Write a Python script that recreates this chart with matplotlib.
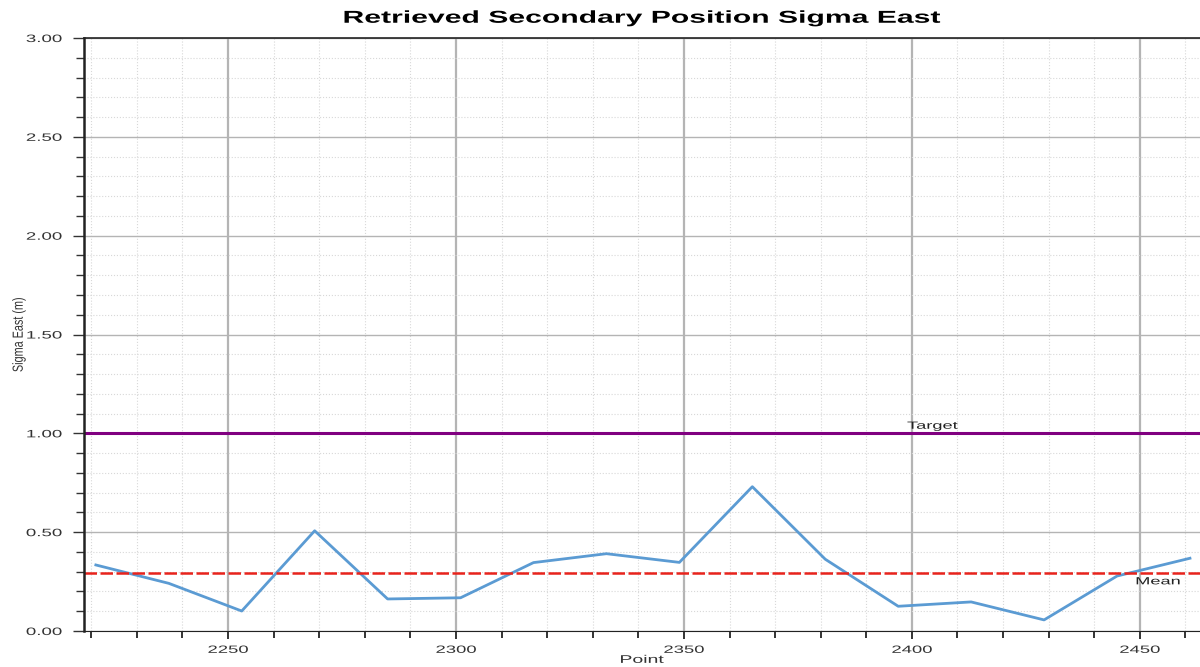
import numpy as np
import matplotlib.pyplot as plt
from matplotlib.patheffects import AbstractPathEffect
from matplotlib.ticker import MultipleLocator, FormatStrFormatter
from matplotlib.transforms import Affine2D

# data
points = [2221, 2237, 2253, 2269, 2285, 2301, 2317, 2333,
          2349, 2365, 2381, 2397, 2413, 2429, 2445, 2461]
sigma_east = [0.334, 0.241, 0.101, 0.507, 0.162, 0.168, 0.346, 0.391,
              0.347, 0.730, 0.363, 0.125, 0.147, 0.056, 0.278, 0.368]
target = 1.0
mean_val = np.mean(sigma_east)

# the reference text looks squashed vertically (wide glyphs),
# so glyphs get stretched sideways when drawn
SX = 1.75


class Stretch(AbstractPathEffect):
    def __init__(self, sx=1.0, sy=1.0, anchor='center'):
        super().__init__()
        self.sx = sx
        self.sy = sy
        self.anchor = anchor

    def draw_path(self, renderer, gc, tpath, affine, rgbFace=None):
        ext = tpath.get_extents()
        if self.anchor == 'right':
            cx = ext.x1
        elif self.anchor == 'left':
            cx = ext.x0
        else:
            cx = (ext.x0 + ext.x1) / 2
        cy = (ext.y0 + ext.y1) / 2
        t = Affine2D().translate(-cx, -cy).scale(self.sx, self.sy).translate(cx, cy)
        renderer.draw_path(gc, tpath, t + affine, rgbFace)


plt.rcParams['font.family'] = ['Liberation Sans', 'DejaVu Sans']

fig = plt.figure(figsize=(12, 6.67), dpi=100)
ax = fig.add_axes([0.07, 0.054, 0.93, 0.889])

ax.plot(points, sigma_east, color='#5b9bd3', linewidth=2)
ax.axhline(target, color='#800080', linewidth=2.2)
ax.axhline(mean_val, color='#e8231c', linewidth=1.8, linestyle=(0, (5, 1.4)))

ax.text(2404.5, target + 0.013, 'Target', ha='center', va='bottom', fontsize=7.5,
        color='#222222', path_effects=[Stretch(SX)])
ax.text(2454, mean_val - 0.015, 'Mean', ha='center', va='top', fontsize=7.5,
        color='#222222', path_effects=[Stretch(SX)])

ax.set_xlim(2218.4, 2463.2)
ax.set_ylim(0, 3)

ax.xaxis.set_major_locator(MultipleLocator(50))
ax.xaxis.set_minor_locator(MultipleLocator(10))
ax.yaxis.set_major_locator(MultipleLocator(0.5))
ax.yaxis.set_minor_locator(MultipleLocator(0.1))
ax.yaxis.set_major_formatter(FormatStrFormatter('%.2f'))

ax.xaxis.grid(which='major', color='#b4b4b4', linewidth=1.6)
ax.yaxis.grid(which='major', color='#b4b4b4', linewidth=1)
ax.grid(which='minor', color='#d8d8d8', linewidth=0.8, linestyle=':')
ax.set_axisbelow(True)

ax.tick_params(axis='y', which='major', direction='out', length=8, width=1,
               colors='#333333', labelsize=7.7, pad=8)
ax.tick_params(axis='y', which='minor', direction='out', length=6, width=1, colors='#333333')
ax.tick_params(axis='x', which='major', direction='out', length=6, width=1.4,
               colors='#333333', labelsize=7.6, pad=4)
ax.tick_params(axis='x', which='minor', direction='out', length=5, width=1.4, colors='#333333')

for lab in ax.get_yticklabels():
    lab.set_path_effects([Stretch(SX, anchor='right')])
for lab in ax.get_xticklabels():
    lab.set_path_effects([Stretch(SX)])

ax.spines['right'].set_visible(False)
for s in ['left', 'top', 'bottom']:
    ax.spines[s].set_color('#222222')
ax.spines['left'].set_linewidth(1.8)
ax.spines['top'].set_linewidth(1.2)

ax.set_xlabel('Point', fontsize=8, color='#333333', labelpad=0,
              path_effects=[Stretch(SX)])
ax.set_ylabel('Sigma East (m)', fontsize=7.8, color='#333333',
              path_effects=[Stretch(1.0, 1.35)])
ax.yaxis.set_label_coords(-0.054, 0.5)
ax.set_title('Retrieved Secondary Position Sigma East', fontsize=12.4,
             fontweight='bold', pad=11, path_effects=[Stretch(SX)])

fig.savefig('out.png', dpi=100)
